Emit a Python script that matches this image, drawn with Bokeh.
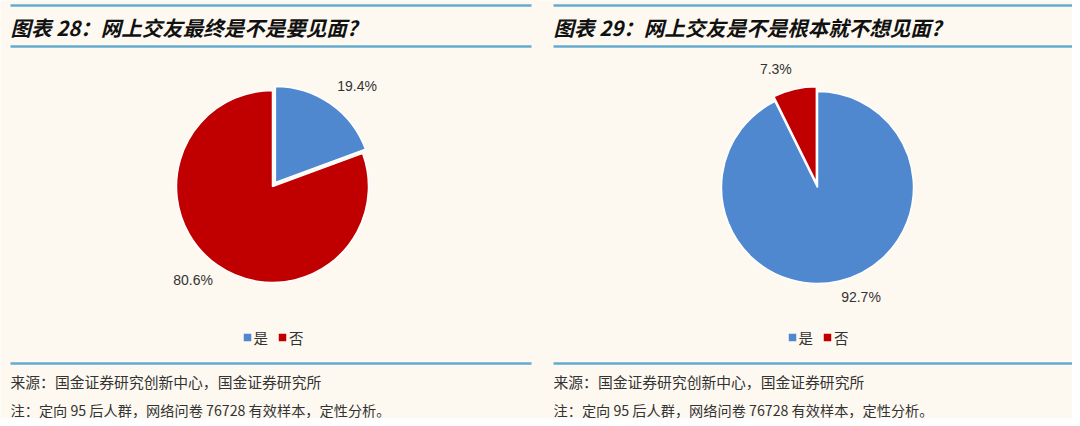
import math
from bokeh.plotting import figure
from bokeh.models import Range1d, ColumnDataSource
from bokeh.core.properties import value
from bokeh.embed import file_html
from bokeh.resources import INLINE

# ---------------- data ----------------
titles = ["图表 28：网上交友最终是不是要见面?", "图表 29：网上交友是不是根本就不想见面?"]
categories = ["是", "否"]
values_28 = [19.4, 80.6]
values_29 = [92.7, 7.3]
source_text = "来源：国金证券研究创新中心，国金证券研究所"
note_text = "注：定向 95 后人群，网络问卷 76728 有效样本，定性分析。"

# ---------------- style ----------------
BG = "#fdf9f1"
LINE = "#64abcf"
COLORS = ["#4f88cf", "#c00000"]
CJK = "Noto Sans CJK SC"
LAT = "Liberation Sans"
W, H = 1072, 418
R = 96                    # pie radius in px
EXPLODE = 5

p = figure(width=W, height=H, output_backend="svg", toolbar_location=None,
           x_range=Range1d(0, W), y_range=Range1d(0, H),
           x_axis_location=None, y_axis_location=None, min_border=0,
           background_fill_color=BG, border_fill_color=BG)
p.grid.visible = False
p.outline_line_color = None

def sy(y):  # screen y -> data y
    return H - y

panels = [
    dict(x0=10, x1=531, cx=272, cy=186, title=titles[0], vals=values_28),
    dict(x0=553, x1=1072, cx=817, cy=187, title=titles[1], vals=values_29),
]

for pan in panels:
    x0, x1, cx, cy = pan["x0"], pan["x1"], pan["cx"], pan["cy"]
    # rules
    for yy in (5, 46, 363):
        p.segment(x0=[x0], y0=[sy(yy)], x1=[x1], y1=[sy(yy)], line_color=LINE, line_width=2.5)
    # title
    p.text(x=[x0], y=[sy(26)], text=[pan["title"]], text_font=value(CJK),
           text_font_style="bold italic", text_font_size="20.5px", text_color="#111111",
           text_baseline="middle", text_align="left")
    # source / note
    p.text(x=[x0], y=[sy(381)], text=[source_text], text_font=value(CJK),
           text_font_size="14.8px", text_color="#333333", text_baseline="middle", text_align="left")
    p.text(x=[x0], y=[sy(409)], text=[note_text], text_font=value(CJK),
           text_font_size="14.2px", text_color="#333333", text_baseline="middle", text_align="left")

    # pie
    vals = pan["vals"]
    total = sum(vals)
    smallest = vals.index(min(vals))
    cum = 0.0
    xs, ys, sa, ea, cols, lx, ly, ltxt, lal, lbl = [], [], [], [], [], [], [], [], [], []
    for i, v in enumerate(vals):
        f0, f1 = cum / total, (cum + v) / total
        cum += v
        start = math.pi / 2 - 2 * math.pi * f1
        end = math.pi / 2 - 2 * math.pi * f0
        mid = (start + end) / 2
        ex = EXPLODE if i == smallest else 0
        px = cx + ex * math.cos(mid)
        py = sy(cy) + ex * math.sin(mid)
        xs.append(px); ys.append(py); sa.append(start); ea.append(end); cols.append(COLORS[i])
        rl = R + ex + (12 if math.sin(mid) >= 0 else 8)
        lx.append(cx + rl * math.cos(mid))
        ly.append(sy(cy) + rl * math.sin(mid))
        ltxt.append(f"{v:.1f}%")
        lal.append("left" if math.cos(mid) >= 0 else "right")
        lbl.append("bottom" if math.sin(mid) >= 0 else "top")
    src = ColumnDataSource(dict(x=xs, y=ys, s=sa, e=ea, c=cols))
    p.wedge(x="x", y="y", radius=R, start_angle="s", end_angle="e", fill_color="c",
            line_color="white", line_width=1.5, source=src)
    for j in range(len(vals)):
        p.text(x=[lx[j]], y=[ly[j]], text=[ltxt[j]], text_font=value(LAT),
               text_font_size="14px", text_color="#333333",
               text_align=lal[j], text_baseline=lbl[j])

    # legend
    ly0 = sy(337)
    offs = [(-25, -19), (10, 16.5)]
    for k, cat in enumerate(categories):
        sq, tx = offs[k]
        p.scatter(x=[cx + sq], y=[ly0], marker="square", size=7.5,
                  fill_color=COLORS[k], line_color=None)
        p.text(x=[cx + tx], y=[ly0], text=[cat], text_font=value(CJK),
               text_font_size="14.5px", text_color="#333333",
               text_baseline="middle", text_align="left")

open("out.html", "w").write(file_html(p, INLINE))
